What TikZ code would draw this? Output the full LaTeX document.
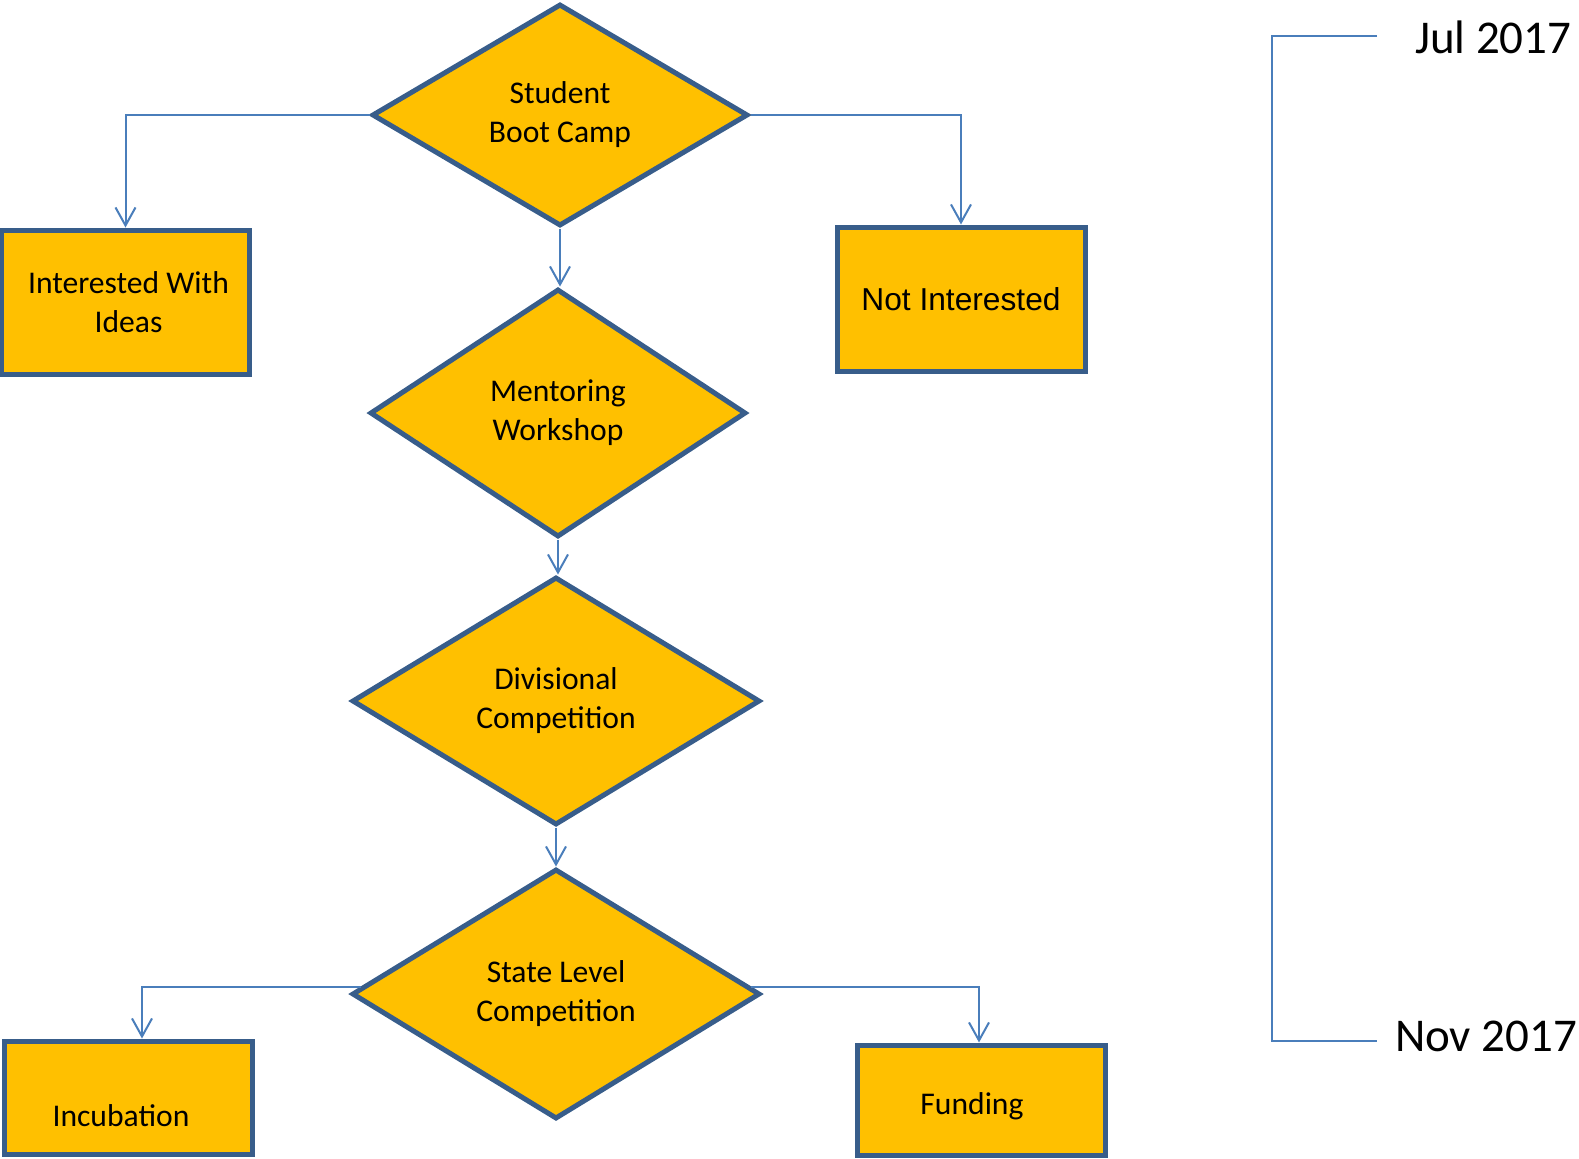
\documentclass[tikz,border=0pt]{standalone}
\usepackage{fontspec}
\setmainfont{Carlito}
\newfontfamily\arialfont{Liberation Sans}
\usetikzlibrary{shapes.geometric,arrows.meta}
\tikzset{
    every picture/.style={
        line width=1pt
    },
    % Style for the decision diamonds
    stage diamond/.style={
        diamond, draw=stageBorder, fill=stageFill, line width=2.5pt,
        align=center, inner sep=0pt,
        execute at begin node={\rule{0pt}{15pt}},
        font=\fontsize{15.8}{19.5}\selectfont
    },
    % Style for the outcome boxes
    outcome box/.style={
        rectangle, draw=stageBorder, fill=stageFill, line width=2.5pt,
        minimum width=124pt, align=center, inner sep=0pt,
        font=\fontsize{15.8}{19.5}\selectfont
    },
    box text/.style={
        anchor=base, inner sep=0pt,
        font=\fontsize{15.8}{19.5}\selectfont
    },
    link/.style={
        draw=linkLine, -{Straight Barb[length=9pt,width=10pt]}
    },
    date label/.style={
        anchor=base west, inner sep=0pt,
        font=\fontsize{23.5}{28}\selectfont
    }
}
\definecolor{stageFill}{RGB}{255,192,0}
\definecolor{stageBorder}{RGB}{56,93,138}
\definecolor{linkLine}{RGB}{74,126,187}

\begin{document}
\begin{tikzpicture}[x=0.5pt,y=-0.5pt]

% Set the canvas size
\path[use as bounding box] (0,0) rectangle (1579,1158);

% Draw the stages
\node[stage diamond, minimum width=188pt, minimum height=111pt] (bootcamp) at (560,115) {Student\\Boot Camp};
\node[stage diamond, minimum width=188pt, minimum height=124pt] (mentoring) at (558,413) {Mentoring\\Workshop};
\node[stage diamond, minimum width=204pt, minimum height=124pt] (divisional) at (556,701) {Divisional\\Competition};
\node[stage diamond, minimum width=204pt, minimum height=125pt] (statelevel) at (556,994) {State Level\\Competition};

% Draw the outcomes
\node[outcome box, minimum height=72pt] (ideas) at (125.5,302) {\hspace{3pt}Interested With\\\hspace{3pt}Ideas};
\node[outcome box, minimum height=72pt, font=\arialfont\fontsize{15.85}{19}\selectfont] (notint) at (961,299) {Not Interested};
\node[outcome box, minimum height=56.5pt,
    label={[box text, xshift=-3.5pt, yshift=-9.25pt]center:Incubation}] (incubation) at (128,1097.5) {};
\node[outcome box, minimum height=55pt,
    label={[box text, xshift=-4.5pt, yshift=-3pt]center:Funding}] (funding) at (981,1100) {};

% Draw all connectors
\draw[link] (bootcamp.west) -| (ideas.north);
\draw[link] (bootcamp.east) -| (notint.north);
\draw[link] (bootcamp.south) -- (bootcamp.south |- mentoring.north);
\draw[link] (mentoring.south) -- (mentoring.south |- divisional.north);
\draw[link] (divisional.south) -- (statelevel.north);
\draw[link] (statelevel.178) -| ([xshift=7pt]incubation.north);
\draw[link] (statelevel.2) -| ([xshift=-1pt]funding.north);

% Draw the time span
\node[date label] (jul) at (1414,53) {Jul 2017};
\node[date label] (nov) at (1394,1051) {Nov 2017};
\coordinate (julend) at (1377,36);
\coordinate (novend) at (1377,1041);
\draw[linkLine] (julend) -- (1272,36) -- (1272,1041) -- (novend);

\end{tikzpicture}
\end{document}
